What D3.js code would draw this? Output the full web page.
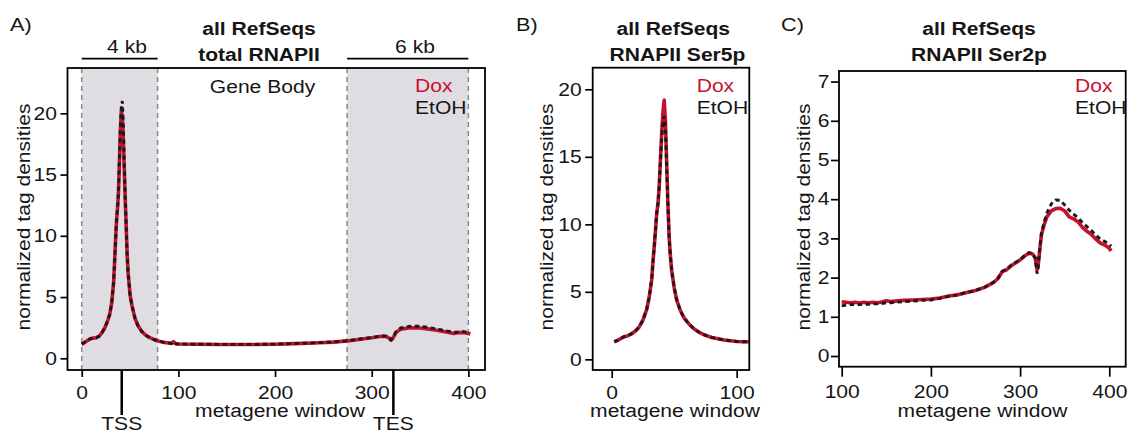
<!DOCTYPE html>
<html>
<head>
<meta charset="utf-8">
<script src="https://cdn.jsdelivr.net/npm/d3@7"></script>
<style>
  body { margin: 0; background: #fff; }
  svg { display: block; }
</style>
</head>
<body>
<div id="chart"></div>
<script>
// ---- data ----
const aWindows = [0, 3, 6, 9, 12, 15, 18, 21, 24, 27, 29, 31, 33, 34, 35, 36, 37, 38, 39, 40, 41, 42, 43, 44, 45, 46, 47, 48, 50, 52, 55, 58, 62, 66, 70, 75, 80, 85, 90, 93, 95, 97, 100, 120, 140, 160, 180, 200, 220, 240, 260, 275, 290, 300, 310, 315, 318, 320, 322, 325, 330, 340, 350, 360, 370, 380, 385, 390, 395, 400, 402];
const aDox = [1.15, 1.3, 1.45, 1.6, 1.65, 1.68, 1.8, 2.1, 2.5, 3.1, 3.6, 4.5, 6.2, 7.8, 9.6, 11.2, 12.2, 13.5, 16, 18.5, 20.2, 19.8, 18, 15.5, 13, 10.8, 8.5, 7, 5.2, 4.3, 3.3, 2.7, 2.2, 1.9, 1.7, 1.52, 1.4, 1.3, 1.25, 1.22, 1.36, 1.2, 1.17, 1.15, 1.13, 1.13, 1.13, 1.15, 1.2, 1.25, 1.32, 1.42, 1.58, 1.68, 1.8, 1.78, 1.65, 1.48, 1.65, 2.1, 2.38, 2.5, 2.48, 2.38, 2.25, 2.1, 2.02, 2.1, 2.1, 2.02, 1.98];
const aEtoh = [1.15, 1.3, 1.45, 1.6, 1.65, 1.68, 1.8, 2.1, 2.5, 3.1, 3.6, 4.5, 6.2, 7.8, 9.6, 11.2, 12.2, 13.5, 16.2, 19, 20.6, 21.0, 19.2, 16, 13.2, 10.8, 8.5, 7, 5.2, 4.3, 3.3, 2.7, 2.2, 1.9, 1.7, 1.52, 1.4, 1.3, 1.25, 1.22, 1.36, 1.2, 1.17, 1.15, 1.14, 1.14, 1.14, 1.16, 1.21, 1.26, 1.33, 1.43, 1.6, 1.7, 1.82, 1.8, 1.66, 1.5, 1.68, 2.15, 2.48, 2.62, 2.62, 2.5, 2.35, 2.2, 2.1, 2.15, 2.18, 2.1, 2.05];

const bWindows = [2, 5, 8, 10, 13, 16, 19, 22, 25, 28, 30, 32, 33, 34, 35, 36, 37, 38, 39, 40, 41, 42, 43, 44, 45, 46, 47, 48, 50, 52, 55, 58, 62, 66, 70, 75, 80, 85, 90, 95, 100, 105, 110];
const bDox = [1.3, 1.42, 1.58, 1.68, 1.75, 1.9, 2.1, 2.4, 2.9, 3.7, 4.6, 5.9, 7.2, 8.3, 9.5, 10.8, 11.5, 12.8, 14.8, 16.8, 18.3, 19.2, 17.6, 14.5, 11.5, 9.0, 7.6, 6.6, 5.3, 4.4, 3.6, 3.05, 2.6, 2.25, 2.0, 1.78, 1.62, 1.52, 1.43, 1.38, 1.32, 1.3, 1.3];
const bEtoh = [1.3, 1.42, 1.58, 1.68, 1.75, 1.9, 2.1, 2.4, 2.9, 3.7, 4.6, 5.9, 7.2, 8.3, 9.5, 10.8, 11.5, 12.8, 14.6, 16.2, 17.6, 18.0, 17.2, 14.2, 11.3, 9.0, 7.6, 6.6, 5.3, 4.4, 3.6, 3.05, 2.6, 2.25, 2.0, 1.78, 1.62, 1.52, 1.43, 1.38, 1.32, 1.3, 1.3];

const cWindows = [100, 105, 110, 115, 120, 125, 130, 135, 140, 145, 150, 155, 160, 170, 180, 190, 200, 210, 220, 230, 240, 250, 260, 270, 275, 280, 285, 290, 300, 305, 310, 314, 317, 319, 320, 322, 324, 327, 330, 335, 340, 345, 350, 355, 360, 365, 370, 375, 380, 385, 390, 395, 400, 402];
const cDox = [1.38, 1.37, 1.36, 1.37, 1.35, 1.37, 1.36, 1.37, 1.36, 1.38, 1.41, 1.39, 1.4, 1.42, 1.43, 1.44, 1.45, 1.48, 1.53, 1.56, 1.62, 1.67, 1.75, 1.87, 1.97, 2.15, 2.2, 2.3, 2.45, 2.55, 2.62, 2.6, 2.5, 2.2, 2.25, 2.7, 3.1, 3.35, 3.55, 3.7, 3.76, 3.77, 3.7, 3.55, 3.5, 3.42, 3.28, 3.18, 3.1, 2.98, 2.88, 2.83, 2.75, 2.68];
const cEtoh = [1.28, 1.3, 1.31, 1.31, 1.31, 1.32, 1.32, 1.33, 1.33, 1.34, 1.36, 1.36, 1.37, 1.39, 1.4, 1.42, 1.43, 1.47, 1.52, 1.56, 1.62, 1.67, 1.75, 1.88, 1.98, 2.16, 2.22, 2.32, 2.46, 2.56, 2.64, 2.62, 2.5, 2.1, 2.2, 2.72, 3.15, 3.42, 3.65, 3.88, 3.98, 3.97, 3.85, 3.72, 3.62, 3.52, 3.4, 3.3, 3.2, 3.08, 2.98, 2.92, 2.85, 2.8];

const aXTicks = [0, 100, 200, 300, 400];
const bXTicks = [0, 100];
const cXTicks = [100, 200, 300, 400];
const abYTicks = [0, 5, 10, 15, 20];
const cYTicks = [0, 1, 2, 3, 4, 5, 6, 7];

// shaded flanks (metagene windows) and TSS / TES positions
const flankBands = [[0, 78.5], [274.5, 400]];
const flankLabels = ["4 kb", "6 kb"];
const siteMarks = [{ name: "TSS", at: 41.4 }, { name: "TES", at: 322.4 }];

const seriesNames = ["Dox", "EtOH"];
const red = "#c8102e";
const dark = "#1a1a1a";
const ink = "#151515";
const font = "'Liberation Sans', Arial, Helvetica, sans-serif";
const fs = 18;

const svg = d3.select("#chart").append("svg")
    .attr("width", 1128)
    .attr("height", 433)
    .style("font-family", font);

svg.append("rect").attr("width", 1128).attr("height", 433).attr("fill", "#fff");

function drawPanel(p) {
    const x = d3.scaleLinear().domain(p.xDom).range([p.left, p.right]);
    const y = d3.scaleLinear().domain(p.yDom).range([p.bottom, p.top]);
    const g = svg.append("g");

    //grey flanking regions with dashed borders
    (p.bands || []).forEach(([a, b]) => {
        g.append("rect")
            .attr("x", x(a)).attr("y", p.top)
            .attr("width", x(b) - x(a)).attr("height", p.bottom - p.top)
            .attr("fill", "#dfdde2");
        [a, b].forEach(v => {
            g.append("line")
                .attr("x1", x(v)).attr("x2", x(v))
                .attr("y1", p.top).attr("y2", p.bottom)
                .attr("stroke", "#8a8a8a").attr("stroke-width", 1.5)
                .attr("stroke-dasharray", "5,4");
        });
    });

    const line = d3.line().x(d => x(d[0])).y(d => y(d[1]));

    g.append("path")
        .datum(d3.zip(p.win, p.dox))
        .attr("d", line)
        .attr("fill", "none").attr("stroke", red)
        .attr("stroke-width", 3.6).attr("stroke-linejoin", "round");

    g.append("path")
        .datum(d3.zip(p.win, p.etoh))
        .attr("d", line)
        .attr("fill", "none").attr("stroke", dark)
        .attr("stroke-width", 2.9).attr("stroke-dasharray", "4.5,3.5");

    //plot box
    g.append("rect")
        .attr("x", p.left).attr("y", p.top)
        .attr("width", p.right - p.left).attr("height", p.bottom - p.top)
        .attr("fill", "none").attr("stroke", "#000").attr("stroke-width", 1.8);

    //x axis
    const xa = g.append("g")
        .attr("transform", `translate(0,${p.bottom})`)
        .call(d3.axisBottom(x).tickValues(p.xTicks).tickSize(p.xTickLen)
            .tickPadding(p.xPad).tickFormat(d3.format("d")));
    xa.select(".domain").remove();

    //y axis
    const ya = g.append("g")
        .attr("transform", `translate(${p.left},0)`)
        .call(d3.axisLeft(y).tickValues(p.yTicks).tickSize(p.yTickLen)
            .tickPadding(p.yPad).tickFormat(d3.format("d")));
    ya.select(".domain").remove();

    [xa, ya].forEach(a => {
        a.selectAll(".tick line").attr("stroke", "#000").attr("stroke-width", 1.7);
        a.selectAll(".tick text").attr("fill", ink)
            .style("font-size", fs + "px").style("font-family", font);
    });

    //axis labels
    g.append("text")
        .attr("x", p.xLabelX).attr("y", 417)
        .attr("text-anchor", "middle")
        .style("font-size", fs + "px").attr("fill", ink)
        .text("metagene window");

    g.append("text")
        .attr("transform", `translate(${p.yLabelX},217) rotate(-90)`)
        .attr("text-anchor", "middle")
        .style("font-size", fs + "px").attr("fill", ink)
        .text("normalized tag densities");

    //panel letter and two-line title
    g.append("text")
        .attr("x", p.letterX).attr("y", 30.5)
        .style("font-size", "18.5px").attr("fill", ink)
        .text(p.letter);

    p.title.forEach((t, i) => {
        g.append("text")
            .attr("x", p.titleX[i]).attr("y", i === 0 ? 35 : 61)
            .attr("text-anchor", "middle")
            .style("font-size", fs + "px").style("font-weight", "bold")
            .attr("fill", ink)
            .text(t);
    });

    //legend
    seriesNames.forEach((s, i) => {
        g.append("text")
            .attr("x", p.legendX).attr("y", i === 0 ? 91.7 : 114)
            .style("font-size", fs + "px")
            .attr("fill", i === 0 ? red : ink)
            .text(s);
    });

    return { x, y, g };
}

const A = drawPanel({
    left: 67.5, right: 485, top: 68, bottom: 370,
    xDom: [-14.7, 417.2], yDom: [-0.955, 23.7],
    win: aWindows, dox: aDox, etoh: aEtoh,
    bands: flankBands,
    xTicks: aXTicks, yTicks: abYTicks,
    xTickLen: 7, xPad: 9, yTickLen: 7, yPad: 3.5,
    xLabelX: 280, yLabelX: 30,
    letter: "A)", letterX: 10,
    title: ["all RefSeqs", "total RNAPII"], titleX: [259, 259],
    legendX: 415
});

//flank brackets with kb labels above panel A
flankBands.forEach(([a, b], i) => {
    A.g.append("line")
        .attr("x1", A.x(a)).attr("x2", A.x(b))
        .attr("y1", 58.7).attr("y2", 58.7)
        .attr("stroke", "#000").attr("stroke-width", 1.7);
    A.g.append("text")
        .attr("x", i === 0 ? 127 : 415).attr("y", 53.3)
        .attr("text-anchor", "middle")
        .style("font-size", fs + "px").attr("fill", ink)
        .text(flankLabels[i]);
});

A.g.append("text")
    .attr("x", 262.5).attr("y", 93)
    .attr("text-anchor", "middle")
    .style("font-size", fs + "px").attr("fill", ink)
    .text("Gene Body");

//TSS / TES markers under the axis
siteMarks.forEach(m => {
    A.g.append("line")
        .attr("x1", A.x(m.at)).attr("x2", A.x(m.at))
        .attr("y1", 370).attr("y2", 415)
        .attr("stroke", "#000").attr("stroke-width", 2.5);
    A.g.append("text")
        .attr("x", A.x(m.at)).attr("y", 430)
        .attr("text-anchor", "middle")
        .style("font-size", fs + "px").attr("fill", ink)
        .text(m.name);
});

drawPanel({
    left: 592.7, right: 749.3, top: 67.7, bottom: 370,
    xDom: [-15.2, 110.1], yDom: [-0.79, 21.6],
    win: bWindows, dox: bDox, etoh: bEtoh,
    xTicks: bXTicks, yTicks: abYTicks,
    xTickLen: 8, xPad: 8, yTickLen: 7.5, yPad: 3.5,
    xLabelX: 675, yLabelX: 553,
    letter: "B)", letterX: 516,
    title: ["all RefSeqs", "RNAPII Ser5p"], titleX: [673.3, 677.5],
    legendX: 696.7
});

drawPanel({
    left: 839, right: 1125.7, top: 71, bottom: 366.7,
    xDom: [96.97, 418.4], yDom: [-0.273, 7.27],
    win: cWindows, dox: cDox, etoh: cEtoh,
    xTicks: cXTicks, yTicks: cYTicks,
    xTickLen: 10, xPad: 9, yTickLen: 8, yPad: 1.5,
    xLabelX: 982.5, yLabelX: 810,
    letter: "C)", letterX: 781,
    title: ["all RefSeqs", "RNAPII Ser2p"], titleX: [979, 979],
    legendX: 1075
});

//the original lettering is noticeably wider than Helvetica, so stretch every label
svg.selectAll("text").each(function () {
    const len = this.getComputedTextLength();
    d3.select(this).attr("textLength", len * 1.17).attr("lengthAdjust", "spacingAndGlyphs");
});
</script>
</body>
</html>
